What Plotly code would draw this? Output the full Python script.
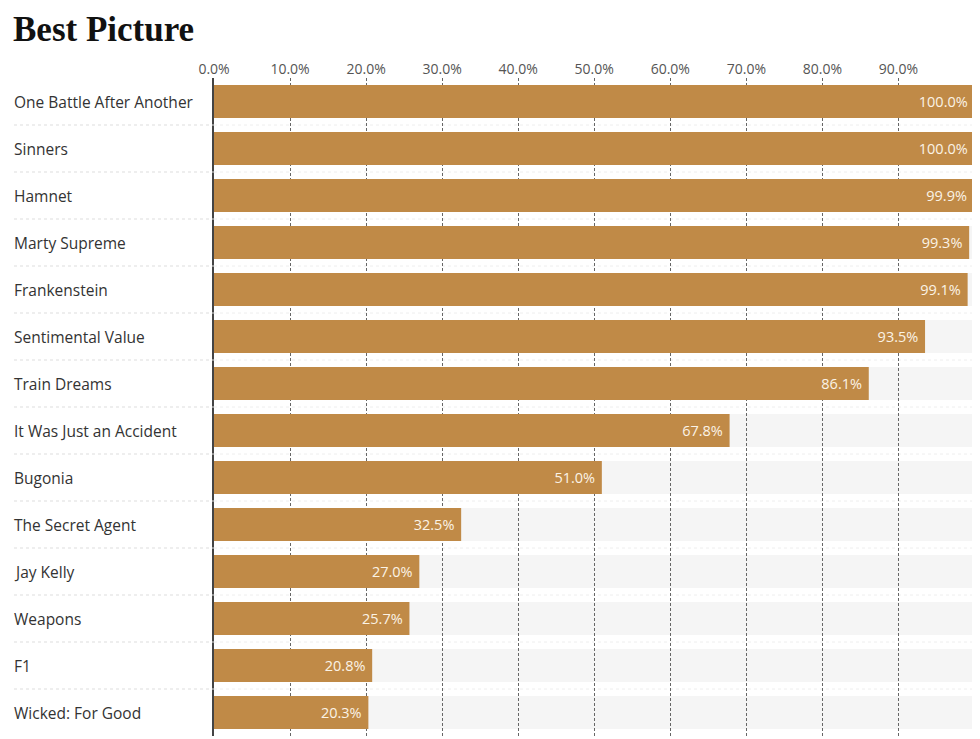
import plotly.graph_objects as go

title = "Best Picture"
films = [
    "One Battle After Another", "Sinners", "Hamnet", "Marty Supreme",
    "Frankenstein", "Sentimental Value", "Train Dreams",
    "It Was Just an Accident", "Bugonia", "The Secret Agent",
    "Jay Kelly", "Weapons", "F1", "Wicked: For Good",
]
chances = [100.0, 100.0, 99.9, 99.3, 99.1, 93.5, 86.1, 67.8, 51.0, 32.5,
           27.0, 25.7, 20.8, 20.3]
track_max = 100.0
tick_vals = [0, 10, 20, 30, 40, 50, 60, 70, 80, 90, 100]
tick_text = ["0.0%", "10.0%", "20.0%", "30.0%", "40.0%", "50.0%", "60.0%",
             "70.0%", "80.0%", "90.0%", ""]

BAR = "#c08a47"
TRACK = "#f5f5f5"
FONT = "Open Sans"
BAR_FRAC = 0.70

# page body has an 8px margin, so the figure is sized to end at the window edge
W, H = 972, 731
ML, MR, MT, MB = 206, 4, 70, 3
plot_w = W - ML - MR
plot_h = H - MT - MB

fig = go.Figure()
fig.add_trace(go.Bar(
    y=films, x=chances, orientation="h",
    marker=dict(color=BAR, line=dict(width=0)),
    text=[f"{v:.1f}%&nbsp;" for v in chances],
    textposition="inside", insidetextanchor="end",
    textfont=dict(family=FONT, size=14.5, color="#fbf3e6"),
    constraintext="none", hoverinfo="skip",
))

shapes = []
n = len(films)
for i in range(n):
    shapes.append(dict(type="rect", xref="x", yref="y", layer="below",
                       x0=0, x1=track_max, y0=i - BAR_FRAC / 2, y1=i + BAR_FRAC / 2,
                       fillcolor=TRACK, line=dict(width=0)))
for i in range(n - 1):
    shapes.append(dict(type="line", xref="paper", yref="y", layer="above",
                       x0=(6 - ML) / plot_w, x1=0, y0=i + 0.5, y1=i + 0.5,
                       line=dict(color="#dddddd", width=1, dash="dot")))
    shapes.append(dict(type="line", xref="x", yref="y", layer="below",
                       x0=0, x1=track_max, y0=i + 0.5, y1=i + 0.5,
                       line=dict(color="#eeeeee", width=1, dash="dot")))

annotations = [dict(text=f, xref="paper", yref="y", x=(4 - ML) / plot_w, y=f,
                    xanchor="left", yanchor="middle", showarrow=False,
                    font=dict(family=FONT, size=15.5, color="#333333"))
               for f in films]
annotations.append(dict(text=f"<b>{title}</b>", xref="paper", yref="paper",
                        x=(3 - ML) / plot_w, y=1 + (MT - 43) / plot_h,
                        xanchor="left", yanchor="bottom", showarrow=False,
                        font=dict(family="Liberation Serif", size=35, color="#111111")))

fig.update_layout(
    width=W, height=H,
    margin=dict(l=ML, r=MR, t=MT, b=MB),
    paper_bgcolor="white", plot_bgcolor="white",
    showlegend=False, bargap=1 - BAR_FRAC,
    shapes=shapes, annotations=annotations,
    xaxis=dict(side="top", range=[0, 100.2], tickvals=tick_vals, ticktext=tick_text,
               showgrid=True, gridcolor="#666666", gridwidth=1, griddash="3px,2px",
               zeroline=False, showline=False, ticks="",
               tickfont=dict(family=FONT, size=14, color="#555555")),
    yaxis=dict(autorange=False, range=[n - 0.5, -0.5], showticklabels=False,
               showgrid=False, zeroline=False, showline=True,
               linecolor="#444444", linewidth=2, ticks=""),
)

fig.write_html("out.html")
